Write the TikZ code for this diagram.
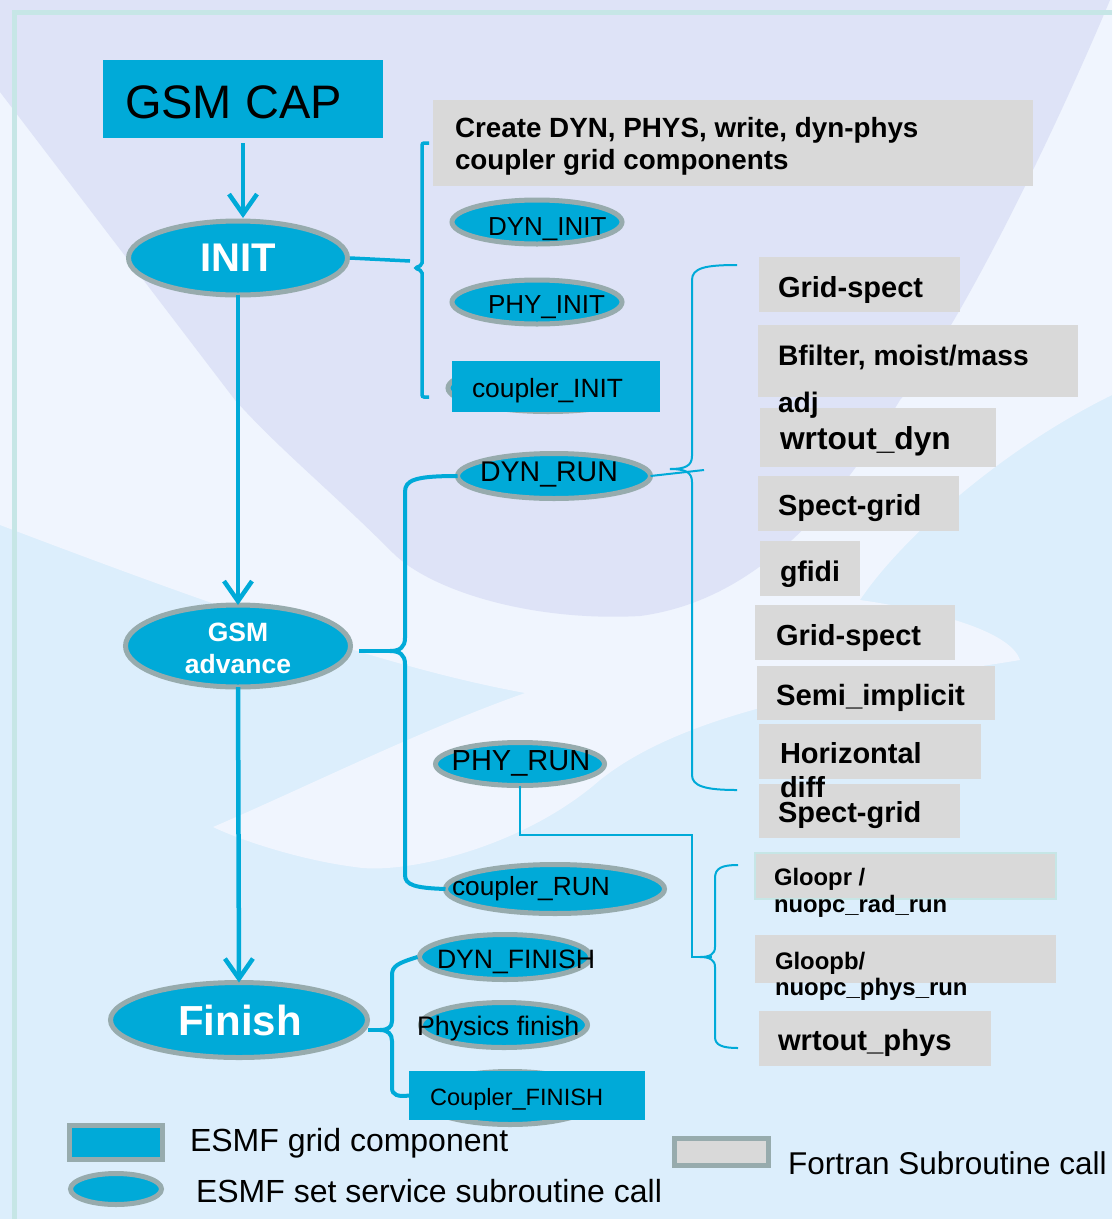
\documentclass[tikz,border=0pt]{standalone}
\usepackage{fontspec}
\setmainfont{Liberation Sans}
\usetikzlibrary{shapes.geometric,arrows.meta}
\definecolor{cyanb}{HTML}{00AAD8}
\definecolor{ellg}{HTML}{97ABAD}
\definecolor{grayb}{HTML}{D9D9D9}
\definecolor{lav}{HTML}{DEE3F7}
\definecolor{wht}{HTML}{F0F5FE}
\definecolor{lblue}{HTML}{DCEEFC}
\definecolor{framec}{HTML}{C6E6E6}
\newcommand\fsz[1]{\fontsize{#1}{#1}\selectfont}
\tikzset{
 ell/.style={ellipse, draw=ellg, line width=5pt, fill=cyanb, inner sep=0pt, outer sep=0pt},
 crect/.style={rectangle, fill=cyanb, inner sep=0pt, outer sep=0pt},
 gbx/.style={rectangle, fill=grayb, inner sep=0pt, outer sep=0pt},
 lbl/.style={anchor=base west, inner sep=0pt, outer sep=0pt, text=black},
 ctxt/.style={inner sep=0pt, outer sep=0pt},
 mainln/.style={line width=4.5pt, draw=cyanb},
 arr/.style={mainln, -{Straight Barb[length=20pt,width=28pt]}},
 brk/.style={line width=3.5pt, draw=cyanb},
 thinln/.style={line width=2pt, draw=cyanb},
}
\begin{document}
\begin{tikzpicture}[x=1pt,y=-1pt]
\useasboundingbox (0,0) rectangle (1112,1219);
% background
\fill[lblue] (0,0) rectangle (1112,1219);
\fill[wht] (0,0) -- (1112,0) -- (1112,395) .. controls (1000,450) and (900,540) .. (860,600)
  .. controls (930,610) and (1010,630) .. (1020,660) .. controls (900,680) and (700,700) .. (600,780)
  .. controls (520,850) and (400,875) .. (355,867) .. controls (300,860) and (240,840) .. (213,827)
  .. controls (300,790) and (420,730) .. (525,693) .. controls (400,670) and (250,620) .. (0,525) -- cycle;
\fill[lav] (0,0) -- (1110,0) .. controls (1060,120) and (960,330) .. (900,400)
  .. controls (840,500) and (760,600) .. (640,616) .. controls (530,622) and (430,590) .. (393,553)
  .. controls (330,490) and (280,450) .. (235,400) -- (0,92) -- cycle;
\draw[framec, line width=5pt] (14,1219) -- (14,12) -- (1112,12);

% grid components (cyan rectangles)
\node[crect, minimum width=280pt, minimum height=78pt] (gsmcap) at (243,99) {};
\node[lbl, font=\fsz{47}] (gsmcapt) at (125,118) {GSM CAP};

% main ellipses
\node[ell, minimum width=219pt, minimum height=74pt] (init) at (238,258) {};
\node[ctxt, text=white, font=\bfseries\fsz{40}] (initt) at (238,258) {INIT};
\node[ell, minimum width=225pt, minimum height=82pt] (gsmadv) at (238,646) {};
\node[ctxt, text=white, align=center, font=\bfseries\fontsize{26.5}{32}\selectfont] (gsmadvt) at (238,648) {GSM\\advance};
\node[ell, minimum width=257pt, minimum height=75pt] (finish) at (239,1020) {};
\node[ctxt, text=white, font=\bfseries\fsz{42}] (finisht) at (240,1020) {Finish};

% main arrows
\coordinate (initin) at (243,218);
\draw[arr] ([yshift=-5pt]gsmcap.south) -- (initin);
\draw[arr] (init.south) -- (gsmadv.north);
\draw[arr] (gsmadv.south) -- (finish.north);

% INIT branch
\node[gbx, minimum width=600pt, minimum height=86pt] (create) at (733,143) {};
\node[lbl, font=\bfseries\fsz{27.8}] (createt1) at (455,137) {Create DYN, PHYS, write, dyn-phys};
\node[lbl, font=\bfseries\fsz{27.8}] (createt2) at (455,169) {coupler grid components};
\node[ell, minimum width=170pt, minimum height=44pt] (dyninit) at (537,222) {};
\node[lbl, font=\fsz{26}] (dyninitt) at (488,235) {DYN\_INIT};
\node[ell, minimum width=170pt, minimum height=44pt] (phyinit) at (537,302) {};
\node[lbl, font=\fsz{26}] (phyinitt) at (488,313) {PHY\_INIT};
\node[ell, minimum width=200pt, minimum height=47pt] (coupinite) at (548,388) {};
\node[crect, minimum width=208pt, minimum height=51pt] (coupinit) at (556,386.5) {};
\node[lbl, font=\fsz{26.4}] (coupinitt) at (472,397) {coupler\_INIT};
\coordinate (inits) at (350,258);
\coordinate (initb) at (410,261);
\draw[brk] (inits) -- (initb);
\draw[brk, rounded corners=2pt] (429,143) -- (422,143) -- (422,265) -- (415,268) -- (422,271) -- (422,397) -- (429,397);

% GSM advance branch
\node[ell, minimum width=193pt, minimum height=45pt] (dynrun) at (554,476) {};
\node[ctxt, font=\fsz{28.5}] (dynrunt) at (549,475) {DYN\_RUN};
\node[ell, minimum width=169pt, minimum height=43pt] (phyrun) at (520,764) {};
\node[ctxt, font=\fsz{29}] (phyrunt) at (521,763) {PHY\_RUN};
\node[ell, minimum width=219pt, minimum height=49pt] (couprun) at (555,889) {};
\node[lbl, font=\fsz{26.3}] (couprunt) at (452,895) {coupler\_RUN};
\coordinate (advs) at (359,651);
\coordinate (advb) at (393,651);
\draw[mainln, line width=4pt] (advs) -- (advb);
\draw[mainln, line width=4pt] (dynrun.west) .. controls (415,476) and (405,480) .. (405,492) -- (405,638)
  .. controls (405,647) and (400,651) .. (390,651) .. controls (400,651) and (405,655) .. (405,664)
  -- (405,875) .. controls (405,885) and (415,888) .. (couprun.west);

% DYN_RUN brace
\coordinate (dynb) at (704,470);
\draw[thinln] (dynrun.east) -- (dynb);
\draw[thinln] (737,265) .. controls (705,265) and (692,268) .. (692,280) -- (692,456)
  .. controls (692,466) and (685,469) .. (670,469) .. controls (685,469) and (692,472) .. (692,482)
  -- (692,775) .. controls (692,786) and (705,790) .. (737,790);

% DYN subroutine boxes
\node[gbx, minimum width=201pt, minimum height=55pt] (gs1) at (859.5,284.5) {};
\node[gbx, minimum width=320pt, minimum height=72pt] (bf) at (918,361) {};
\node[gbx, minimum width=236pt, minimum height=59pt] (wd) at (878,437.5) {};
\node[gbx, minimum width=201pt, minimum height=55pt] (sg1) at (858.5,503.5) {};
\node[gbx, minimum width=100pt, minimum height=55pt] (gf) at (810,568.5) {};
\node[gbx, minimum width=200pt, minimum height=55pt] (gs2) at (855,632.5) {};
\node[gbx, minimum width=238pt, minimum height=54pt] (si) at (876,693) {};
\node[gbx, minimum width=222pt, minimum height=55pt] (hd) at (870,751.5) {};
\node[gbx, minimum width=201pt, minimum height=54pt] (sg2) at (859.5,811) {};
\node[lbl, font=\bfseries\fsz{29}] (gs1t) at (778,297) {Grid-spect};
\node[lbl, font=\bfseries\fsz{28.2}] (bft1) at (778,365) {Bfilter, moist/mass};
\node[lbl, font=\bfseries\fsz{28.2}] (bft2) at (778,412) {adj};
\node[lbl, font=\bfseries\fsz{31.7}] (wdt) at (780,449) {wrtout\_dyn};
\node[lbl, font=\bfseries\fsz{29}] (sg1t) at (778,515) {Spect-grid};
\node[lbl, font=\bfseries\fsz{28.4}] (gft) at (780,581) {gfidi};
\node[lbl, font=\bfseries\fsz{29}] (gs2t) at (776,645) {Grid-spect};
\node[lbl, font=\bfseries\fsz{29.3}] (sit) at (776,705) {Semi\_implicit};
\node[lbl, font=\bfseries\fsz{29}] (hdt1) at (780,763) {Horizontal};
\node[lbl, font=\bfseries\fsz{29}] (hdt2) at (780,797) {diff};
\node[lbl, font=\bfseries\fsz{29}] (sg2t) at (778,822) {Spect-grid};

% PHY_RUN brace and boxes
\coordinate (phyb) at (712,957);
\draw[thinln] (phyrun.south) -- (520,835) -- (692,835) -- (692,957) -- (phyb);
\draw[thinln] (738,865) .. controls (722,865) and (715,868) .. (715,878) -- (715,947)
  .. controls (715,954) and (710,957) .. (700,957) .. controls (710,957) and (715,960) .. (715,967)
  -- (715,1037) .. controls (715,1045) and (722,1048) .. (738,1048);
\node[gbx, draw=framec, line width=1.5pt, minimum width=301pt, minimum height=46pt] (gr) at (905.5,876) {};
\node[gbx, minimum width=301pt, minimum height=48pt] (gb) at (905.5,959) {};
\node[gbx, minimum width=232pt, minimum height=55pt] (wp) at (875,1038.5) {};
\node[lbl, font=\bfseries\fsz{23.8}] (grt1) at (774,885) {Gloopr /};
\node[lbl, font=\bfseries\fsz{23.8}] (grt2) at (774,912) {nuopc\_rad\_run};
\node[lbl, font=\bfseries\fsz{23.9}] (gbt1) at (775,969) {Gloopb/};
\node[lbl, font=\bfseries\fsz{23.9}] (gbt2) at (775,995) {nuopc\_phys\_run};
\node[lbl, font=\bfseries\fsz{29.2}] (wpt) at (778,1050) {wrtout\_phys};

% Finish branch
\node[ell, minimum width=171pt, minimum height=45pt] (dynfin) at (505,957) {};
\node[lbl, font=\fsz{26.6}] (dynfint) at (437,968) {DYN\_FINISH};
\node[ell, minimum width=167pt, minimum height=45pt] (physfin) at (504,1025) {};
\node[lbl, font=\fsz{26.8}] (physfint) at (417,1035) {Physics finish};
\node[ell, minimum width=180pt, minimum height=53pt] (coupfine) at (510,1098) {};
\node[crect, minimum width=236pt, minimum height=49pt] (coupfin) at (527,1095.5) {};
\node[lbl, font=\fsz{23.6}] (coupfint) at (430,1105) {Coupler\_FINISH};
\coordinate (fins) at (368,1030);
\coordinate (finb) at (384,1030);
\draw[mainln, line width=4pt] (fins) -- (finb);
\draw[mainln, line width=4pt] ([xshift=-2pt]dynfin.west) .. controls (398,963) and (392,966) .. (392,975) -- (392,1021)
  .. controls (392,1027) and (388,1030) .. (380,1030) .. controls (388,1030) and (392,1034) .. (392,1041)
  -- (392,1088) .. controls (392,1095) and (398,1097) .. (coupfin.west);

% legend
\node[crect, draw=ellg, line width=5pt, minimum width=93pt, minimum height=34pt] (legrect) at (116,1142.5) {};
\node[lbl, font=\fsz{32}] (legrectt) at (190,1151) {ESMF grid component};
\node[ell, minimum width=91pt, minimum height=31pt] (legell) at (116,1189) {};
\node[lbl, font=\fsz{32}] (legellt) at (196,1202) {ESMF set service subroutine call};
\node[gbx, draw=ellg, line width=5pt, minimum width=94pt, minimum height=27pt] (leggray) at (721.5,1152) {};
\node[lbl, font=\fsz{31.5}] (leggrayt) at (788,1174) {Fortran Subroutine call};
\end{tikzpicture}
\end{document}
